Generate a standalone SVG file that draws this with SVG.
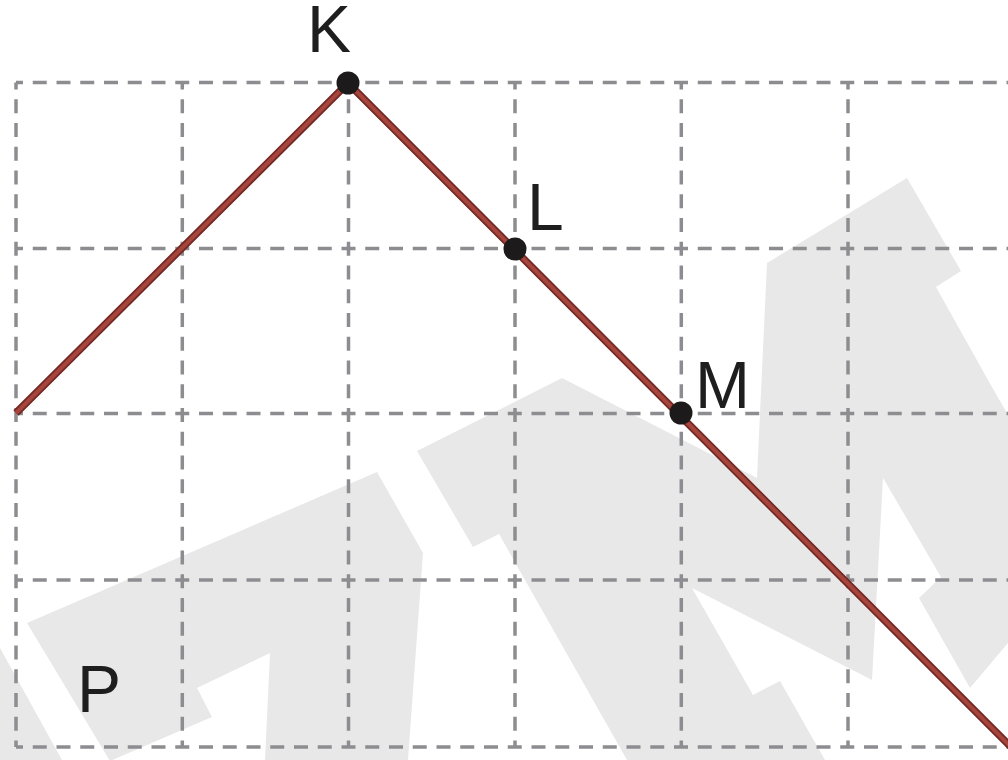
<svg xmlns="http://www.w3.org/2000/svg" width="1008" height="760" viewBox="0 0 1008 760">
  <style>
    .wm { fill: #e8e8e8; stroke: none; }
    .grid line { stroke: #8d8d91; stroke-width: 3.5; stroke-dasharray: 14 9.75; stroke-dashoffset: 7; fill: none; }
    .edge-outer { stroke: #742823; stroke-width: 7.5; fill: none; stroke-linejoin: miter; stroke-linecap: butt; }
    .edge-inner { stroke: #a5453d; stroke-width: 4; fill: none; stroke-linejoin: miter; stroke-linecap: butt; }
    .dot { fill: #1c1a1a; }
    .lbl { font-family: "Liberation Sans", Arial, sans-serif; font-size: 66px; fill: #1e1e1e; }
  </style>
  <rect x="0" y="0" width="1008" height="760" fill="#ffffff"/>
  <g id="watermark">
    <polygon class="wm" points="0,648 62,760 0,760"/>
    <polygon class="wm" points="27,623 377,472 423,553 408,760 265,760 270,653 197,688 212,717 110,761"/>
    <polygon class="wm" points="417,451 562,378 757,478 767,263 907,178 961,271 936,287 988,380 1008,415 1008,643 970,688 919,598 941,577 883,478 872,680 692,588 753,695 780,681 825,760 627,760 499,534 473,547"/>
  </g>
  <g id="grid" class="grid">
    <line x1="16" y1="82.5" x2="1008" y2="82.5"/>
    <line x1="16" y1="248.5" x2="1008" y2="248.5"/>
    <line x1="16" y1="413.5" x2="1008" y2="413.5"/>
    <line x1="16" y1="580" x2="1008" y2="580"/>
    <line x1="16" y1="747" x2="1008" y2="747"/>
    <line x1="16" y1="82.5" x2="16" y2="747"/>
    <line x1="182.3" y1="82.5" x2="182.3" y2="747"/>
    <line x1="348.5" y1="82.5" x2="348.5" y2="747"/>
    <line x1="515" y1="82.5" x2="515" y2="747"/>
    <line x1="681.3" y1="82.5" x2="681.3" y2="747"/>
    <line x1="848" y1="82.5" x2="848" y2="747"/>
  </g>
  <g id="connectors">
    <polyline class="edge-outer" points="16,413 348,83 1012,748"/>
    <polyline class="edge-inner" points="16,413 348,83 1012,748"/>
  </g>
  <g id="node-K">
    <circle class="dot" cx="348" cy="83" r="11.5"/>
    <text class="lbl" x="307" y="52" font-size="64">K</text>
  </g>
  <g id="node-L">
    <circle class="dot" cx="515" cy="249" r="11.5"/>
    <text class="lbl" x="527" y="230">L</text>
  </g>
  <g id="node-M">
    <circle class="dot" cx="681" cy="413" r="11.5"/>
    <text class="lbl" x="695" y="408">M</text>
  </g>
  <g id="label-P">
    <text class="lbl" x="77" y="712">P</text>
  </g>
</svg>
